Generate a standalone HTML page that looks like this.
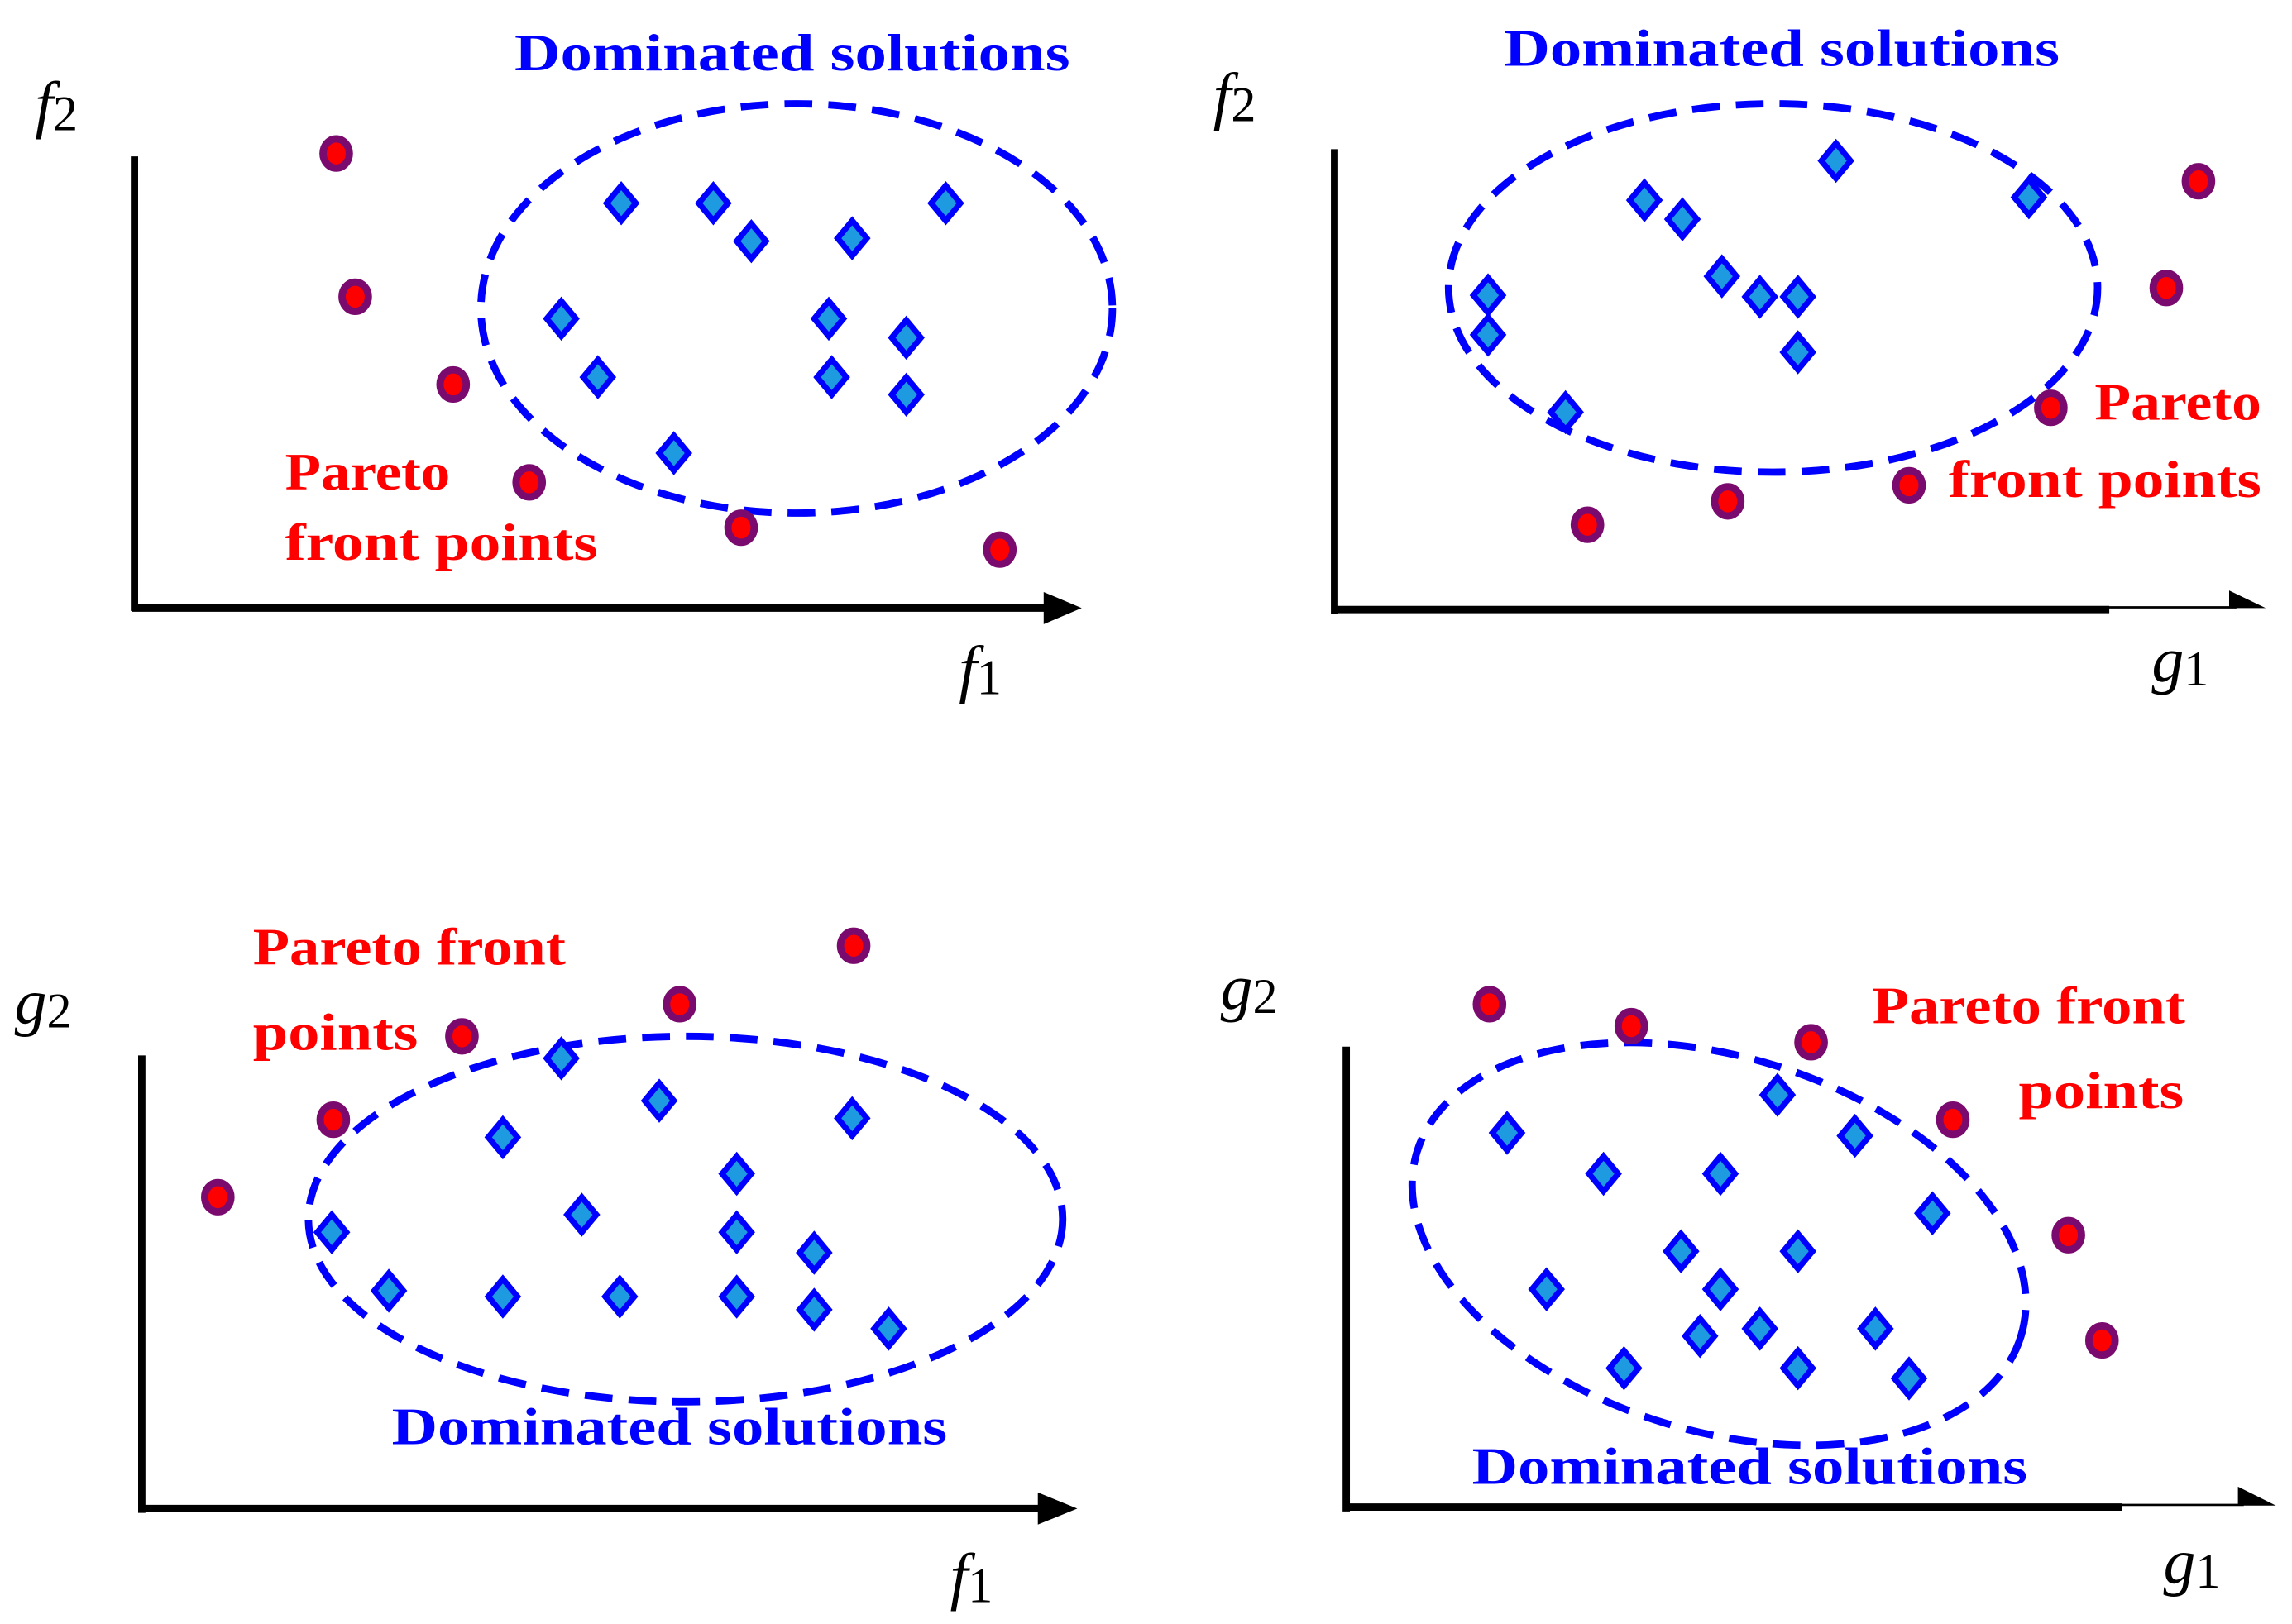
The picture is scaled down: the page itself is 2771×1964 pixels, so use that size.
<!DOCTYPE html>
<html><head><meta charset="utf-8"><style>
html,body{margin:0;padding:0;background:#fff;width:2771px;height:1964px;overflow:hidden}
svg{display:block}
.ax{stroke:#000;stroke-width:5;fill:none}
.el{fill:none;stroke:#0000ff;stroke-width:5;stroke-dasharray:19 11}
.bl{font-family:"Liberation Serif",serif;font-weight:bold;font-size:36px;fill:#0000ff}
.rd{font-family:"Liberation Serif",serif;font-weight:bold;font-size:36px;fill:#ff0000}
.lab{font-family:"Liberation Serif",serif;font-size:44px;fill:#000}
</style></head><body>
<svg width="2771" height="1964" viewBox="0 0 1568 1111" preserveAspectRatio="none" xmlns="http://www.w3.org/2000/svg" xmlns:xlink="http://www.w3.org/1999/xlink">
<defs>
<g id="c"><ellipse cx="0" cy="0" rx="9" ry="10" fill="#ff0000" stroke="#7a0a6e" stroke-width="5"/></g>
<g id="d"><polygon points="0,-12 10,0 0,12 -10,0" fill="#1e9be0" stroke="#0000ff" stroke-width="4"/></g>
</defs>

<!-- Panel 1 -->
<line class="ax" x1="92" y1="107" x2="92" y2="418"/>
<line class="ax" x1="90" y1="416" x2="718" y2="416"/>
<polygon points="714,405 740,416 714,427" fill="#000"/>
<text class="lab" x="24" y="86"><tspan font-style="italic">f</tspan><tspan font-size="34" dy="3">2</tspan></text>
<text class="lab" x="656" y="472"><tspan font-style="italic">f</tspan><tspan font-size="34" dy="3">1</tspan></text>
<text class="bl" x="352" y="48" textLength="380" lengthAdjust="spacingAndGlyphs">Dominated solutions</text>
<ellipse class="el" cx="545" cy="211" rx="216" ry="140"/>
<text class="rd" x="195" y="335" textLength="113" lengthAdjust="spacingAndGlyphs">Pareto</text>
<text class="rd" x="195" y="383" textLength="214" lengthAdjust="spacingAndGlyphs">front points</text>
<use xlink:href="#c" x="230" y="105"/><use xlink:href="#c" x="243" y="203"/><use xlink:href="#c" x="310" y="263"/>
<use xlink:href="#c" x="362" y="330"/><use xlink:href="#c" x="507" y="361"/><use xlink:href="#c" x="684" y="376"/>
<use xlink:href="#d" x="425" y="139"/><use xlink:href="#d" x="488" y="139"/><use xlink:href="#d" x="514" y="165"/>
<use xlink:href="#d" x="583" y="163"/><use xlink:href="#d" x="647" y="139"/><use xlink:href="#d" x="384" y="218"/>
<use xlink:href="#d" x="567" y="218"/><use xlink:href="#d" x="620" y="231"/><use xlink:href="#d" x="409" y="258"/>
<use xlink:href="#d" x="569" y="258"/><use xlink:href="#d" x="620" y="270"/><use xlink:href="#d" x="461" y="310"/>

<!-- Panel 2 -->
<line class="ax" x1="913" y1="102" x2="913" y2="420"/>
<line class="ax" x1="911" y1="417" x2="1443" y2="417"/>
<line x1="1440" y1="415.5" x2="1530" y2="415.5" stroke="#000" stroke-width="1.5"/>
<polygon points="1525,404 1550,416 1525,416" fill="#000"/>
<text class="lab" x="830" y="80"><tspan font-style="italic">f</tspan><tspan font-size="34" dy="3">2</tspan></text>
<text class="lab" x="1472" y="466"><tspan font-style="italic">g</tspan><tspan font-size="34" dy="3">1</tspan></text>
<text class="bl" x="1029" y="45" textLength="380" lengthAdjust="spacingAndGlyphs">Dominated solutions</text>
<ellipse class="el" cx="1213" cy="197" rx="222" ry="126"/>
<text class="rd" x="1433" y="287" textLength="114" lengthAdjust="spacingAndGlyphs">Pareto</text>
<text class="rd" x="1333" y="340" textLength="214" lengthAdjust="spacingAndGlyphs">front points</text>
<use xlink:href="#c" x="1504" y="124"/><use xlink:href="#c" x="1482" y="197"/><use xlink:href="#c" x="1403" y="279"/>
<use xlink:href="#c" x="1306" y="332"/><use xlink:href="#c" x="1182" y="343"/><use xlink:href="#c" x="1086" y="359"/>
<use xlink:href="#d" x="1256" y="110"/><use xlink:href="#d" x="1388" y="135"/><use xlink:href="#d" x="1125" y="137"/>
<use xlink:href="#d" x="1151" y="150"/><use xlink:href="#d" x="1178" y="189"/><use xlink:href="#d" x="1204" y="203"/>
<use xlink:href="#d" x="1230" y="203"/><use xlink:href="#d" x="1018" y="202"/><use xlink:href="#d" x="1018" y="229"/>
<use xlink:href="#d" x="1230" y="241"/><use xlink:href="#d" x="1071" y="282"/>

<!-- Panel 3 -->
<line class="ax" x1="97" y1="722" x2="97" y2="1035"/>
<line class="ax" x1="95" y1="1032" x2="714" y2="1032"/>
<polygon points="710,1021 737,1032 710,1043" fill="#000"/>
<text class="lab" x="10" y="700"><tspan font-style="italic">g</tspan><tspan font-size="34" dy="3">2</tspan></text>
<text class="lab" x="650" y="1093"><tspan font-style="italic">f</tspan><tspan font-size="34" dy="3">1</tspan></text>
<ellipse class="el" cx="469" cy="834" rx="258" ry="125"/>
<text class="rd" x="173" y="660" textLength="214" lengthAdjust="spacingAndGlyphs">Pareto front</text>
<text class="rd" x="173" y="718" textLength="113" lengthAdjust="spacingAndGlyphs">points</text>
<text class="bl" x="268" y="988" textLength="380" lengthAdjust="spacingAndGlyphs">Dominated solutions</text>
<use xlink:href="#c" x="584" y="647"/><use xlink:href="#c" x="465" y="687"/><use xlink:href="#c" x="316" y="709"/>
<use xlink:href="#c" x="228" y="766"/><use xlink:href="#c" x="149" y="819"/>
<use xlink:href="#d" x="384" y="724"/><use xlink:href="#d" x="451" y="753"/><use xlink:href="#d" x="583" y="765"/>
<use xlink:href="#d" x="344" y="778"/><use xlink:href="#d" x="504" y="803"/><use xlink:href="#d" x="398" y="831"/>
<use xlink:href="#d" x="227" y="843"/><use xlink:href="#d" x="504" y="843"/><use xlink:href="#d" x="557" y="857"/>
<use xlink:href="#d" x="266" y="883"/><use xlink:href="#d" x="344" y="887"/><use xlink:href="#d" x="424" y="887"/>
<use xlink:href="#d" x="504" y="887"/><use xlink:href="#d" x="557" y="896"/><use xlink:href="#d" x="608" y="909"/>

<!-- Panel 4 -->
<line class="ax" x1="921" y1="716" x2="921" y2="1034"/>
<line class="ax" x1="919" y1="1031" x2="1452" y2="1031"/>
<line x1="1450" y1="1029.5" x2="1535" y2="1029.5" stroke="#000" stroke-width="1.5"/>
<polygon points="1531,1017 1557,1030 1531,1030" fill="#000"/>
<text class="lab" x="835" y="690"><tspan font-style="italic">g</tspan><tspan font-size="34" dy="3">2</tspan></text>
<text class="lab" x="1480" y="1083"><tspan font-style="italic">g</tspan><tspan font-size="34" dy="3">1</tspan></text>
<ellipse class="el" cx="1176" cy="851" rx="216" ry="128" transform="rotate(17 1176 851)"/>
<text class="rd" x="1281" y="700" textLength="214" lengthAdjust="spacingAndGlyphs">Pareto front</text>
<text class="rd" x="1381" y="758" textLength="113" lengthAdjust="spacingAndGlyphs">points</text>
<text class="bl" x="1007" y="1015" textLength="380" lengthAdjust="spacingAndGlyphs">Dominated solutions</text>
<use xlink:href="#c" x="1019" y="687"/><use xlink:href="#c" x="1116" y="702"/><use xlink:href="#c" x="1239" y="713"/>
<use xlink:href="#c" x="1336" y="766"/><use xlink:href="#c" x="1415" y="845"/><use xlink:href="#c" x="1438" y="917"/>
<use xlink:href="#d" x="1216" y="749"/><use xlink:href="#d" x="1031" y="775"/><use xlink:href="#d" x="1269" y="777"/>
<use xlink:href="#d" x="1097" y="803"/><use xlink:href="#d" x="1177" y="803"/><use xlink:href="#d" x="1322" y="830"/>
<use xlink:href="#d" x="1150" y="856"/><use xlink:href="#d" x="1230" y="856"/><use xlink:href="#d" x="1058" y="882"/>
<use xlink:href="#d" x="1177" y="882"/><use xlink:href="#d" x="1204" y="909"/><use xlink:href="#d" x="1163" y="914"/>
<use xlink:href="#d" x="1283" y="909"/><use xlink:href="#d" x="1111" y="936"/><use xlink:href="#d" x="1230" y="936"/>
<use xlink:href="#d" x="1306" y="943"/>
</svg>
</body></html>
